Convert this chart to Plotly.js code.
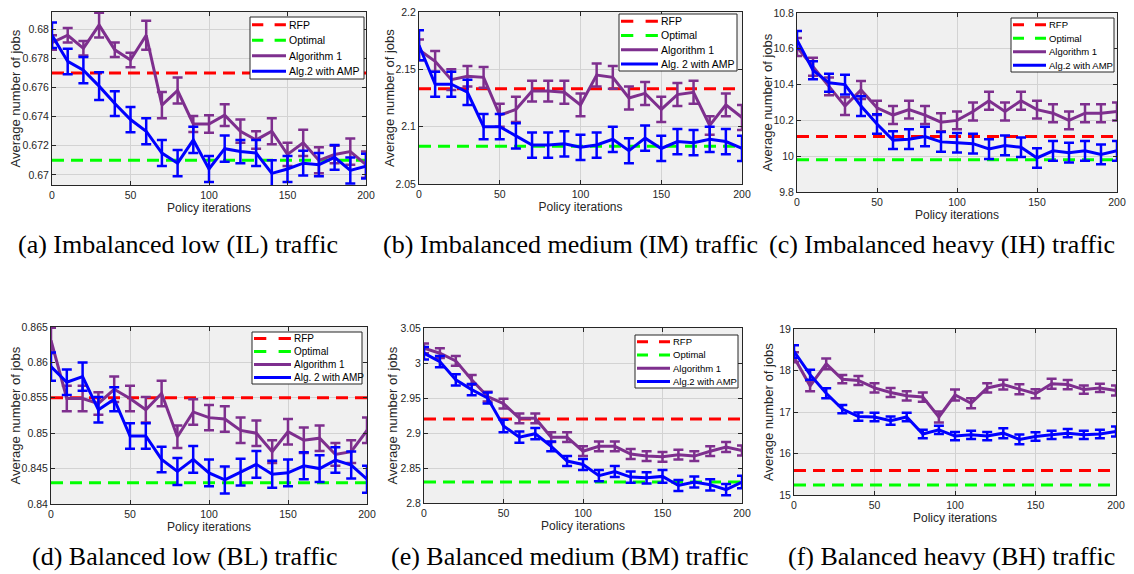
<!DOCTYPE html>
<html>
<head>
<meta charset="utf-8">
<script src="https://cdn.plot.ly/plotly-3.0.1.min.js"></script>
<style>
  html, body { margin: 0; padding: 0; background: #ffffff; }
  #chart { width: 1134px; height: 574px; }
</style>
</head>
<body>
<div id="chart"></div>
<script>
// Policy iteration index shared by every panel
const iterations = [0, 10, 20, 30, 40, 50, 60, 70, 80, 90, 100, 110, 120, 130, 140, 150, 160, 170, 180, 190, 200];
const xTickVals = [0, 50, 100, 150, 200];

// (a) Imbalanced low traffic
const rfpIL = 0.677;
const optIL = 0.671;
const alg1IL = [0.6791, 0.6796, 0.6787, 0.6803, 0.6786, 0.6779, 0.6796, 0.6748, 0.6758, 0.6735, 0.6735, 0.6741, 0.6730, 0.6724, 0.6730, 0.6714, 0.6722, 0.6710, 0.6714, 0.6716, 0.6707];
const alg1ILErr = [0.0005, 0.0005, 0.0005, 0.00085, 0.0005, 0.0005, 0.001, 0.0009, 0.0009, 0.00055, 0.0006, 0.00075, 0.0008, 0.0006, 0.0009, 0.0008, 0.0009, 0.0009, 0.0006, 0.0009, 0.0009];
const alg2IL = [0.6796, 0.6778, 0.6772, 0.6761, 0.6749, 0.6738, 0.6730, 0.6715, 0.6708, 0.6724, 0.6704, 0.6718, 0.6716, 0.6715, 0.6701, 0.6704, 0.6708, 0.6707, 0.6712, 0.6703, 0.6706];
const alg2ILErr = [0.00088, 0.00088, 0.0009, 0.00095, 0.00085, 0.00087, 0.0009, 0.0009, 0.0009, 0.0009, 0.0009, 0.0009, 0.0008, 0.0009, 0.0009, 0.0009, 0.00085, 0.0008, 0.00085, 0.0009, 0.00085];
const yTicksIL = [0.67, 0.672, 0.674, 0.676, 0.678, 0.68];
const yLabelsIL = ['0.67', '0.672', '0.674', '0.676', '0.678', '0.68'];

// (b) Imbalanced medium traffic
const rfpIM = 2.133;
const optIM = 2.083;
const alg1IM = [2.167, 2.157, 2.141, 2.144, 2.143, 2.110, 2.115, 2.131, 2.131, 2.130, 2.119, 2.145, 2.143, 2.125, 2.129, 2.115, 2.128, 2.130, 2.101, 2.119, 2.108];
const alg1IMErr = [0.009, 0.009, 0.009, 0.009, 0.009, 0.010, 0.011, 0.009, 0.009, 0.010, 0.010, 0.010, 0.010, 0.010, 0.010, 0.011, 0.010, 0.010, 0.008, 0.010, 0.011];
const alg2IM = [2.171, 2.137, 2.137, 2.130, 2.100, 2.100, 2.092, 2.084, 2.084, 2.085, 2.082, 2.084, 2.089, 2.079, 2.090, 2.081, 2.087, 2.086, 2.089, 2.087, 2.081];
const alg2IMErr = [0.013, 0.011, 0.011, 0.011, 0.011, 0.011, 0.011, 0.011, 0.011, 0.011, 0.011, 0.011, 0.011, 0.011, 0.011, 0.011, 0.011, 0.011, 0.011, 0.011, 0.011];
const yTicksIM = [2.05, 2.1, 2.15, 2.2];
const yLabelsIM = ['2.05', '2.1', '2.15', '2.2'];

// (c) Imbalanced heavy traffic
const rfpIH = 10.11;
const optIH = 9.98;
const alg1IH = [10.61, 10.50, 10.39, 10.28, 10.37, 10.27, 10.23, 10.26, 10.23, 10.19, 10.20, 10.25, 10.31, 10.25, 10.31, 10.26, 10.24, 10.20, 10.24, 10.24, 10.25];
const alg1IHErr = [0.05, 0.05, 0.05, 0.05, 0.05, 0.04, 0.05, 0.05, 0.05, 0.05, 0.05, 0.05, 0.05, 0.05, 0.05, 0.05, 0.05, 0.05, 0.05, 0.05, 0.05];
const alg2IH = [10.65, 10.48, 10.41, 10.40, 10.28, 10.18, 10.09, 10.095, 10.11, 10.08, 10.075, 10.07, 10.04, 10.06, 10.05, 9.99, 10.03, 10.02, 10.03, 10.01, 10.03];
const alg2IHErr = [0.05, 0.05, 0.05, 0.055, 0.055, 0.055, 0.05, 0.055, 0.055, 0.055, 0.055, 0.055, 0.055, 0.055, 0.055, 0.055, 0.055, 0.055, 0.055, 0.055, 0.055];
const yTicksIH = [9.8, 10, 10.2, 10.4, 10.6, 10.8];
const yLabelsIH = ['9.8', '10', '10.2', '10.4', '10.6', '10.8'];

// (d) Balanced low traffic
const rfpBL = 0.855;
const optBL = 0.843;
const alg1BL = [0.8631, 0.8549, 0.8549, 0.8542, 0.8562, 0.8549, 0.8533, 0.8556, 0.8495, 0.8530, 0.8522, 0.8520, 0.8504, 0.8500, 0.8474, 0.8502, 0.8490, 0.8493, 0.8470, 0.8474, 0.8504];
const alg1BLErr = [0.0018, 0.0018, 0.0018, 0.0016, 0.0018, 0.0018, 0.0018, 0.0018, 0.0016, 0.0018, 0.0018, 0.0018, 0.0018, 0.0018, 0.0016, 0.0018, 0.0018, 0.0018, 0.0016, 0.0016, 0.0018];
const alg2BL = [0.8594, 0.8572, 0.8580, 0.8533, 0.8548, 0.8496, 0.8496, 0.8463, 0.8446, 0.8463, 0.8444, 0.8434, 0.8445, 0.8456, 0.8442, 0.8444, 0.8454, 0.8450, 0.8462, 0.8455, 0.8435];
const alg2BLErr = [0.002, 0.0018, 0.002, 0.0018, 0.0017, 0.0018, 0.0018, 0.0018, 0.0019, 0.0019, 0.0019, 0.0019, 0.0019, 0.0019, 0.0019, 0.0019, 0.0019, 0.0019, 0.0018, 0.0019, 0.0019];
const yTicksBL = [0.84, 0.845, 0.85, 0.855, 0.86, 0.865];
const yLabelsBL = ['0.84', '0.845', '0.85', '0.855', '0.86', '0.865'];

// (e) Balanced medium traffic
const rfpBM = 2.92;
const optBM = 2.83;
const alg1BM = [3.021, 3.014, 3.003, 2.976, 2.952, 2.942, 2.921, 2.921, 2.894, 2.894, 2.874, 2.881, 2.881, 2.870, 2.867, 2.866, 2.869, 2.867, 2.874, 2.880, 2.875];
const alg1BMErr = [0.007, 0.007, 0.007, 0.007, 0.007, 0.007, 0.007, 0.007, 0.007, 0.007, 0.007, 0.007, 0.007, 0.007, 0.007, 0.007, 0.007, 0.007, 0.007, 0.007, 0.007];
const alg2BM = [3.014, 3.002, 2.976, 2.962, 2.950, 2.910, 2.894, 2.899, 2.881, 2.860, 2.855, 2.839, 2.845, 2.837, 2.836, 2.838, 2.825, 2.830, 2.826, 2.819, 2.830];
const alg2BMErr = [0.009, 0.008, 0.008, 0.008, 0.008, 0.009, 0.008, 0.008, 0.007, 0.007, 0.008, 0.008, 0.008, 0.008, 0.008, 0.009, 0.008, 0.008, 0.008, 0.008, 0.009];
const yTicksBM = [2.8, 2.85, 2.9, 2.95, 3, 3.05];
const yLabelsBM = ['2.8', '2.85', '2.9', '2.95', '3', '3.05'];

// (f) Balanced heavy traffic
const rfpBH = 15.59;
const optBH = 15.24;
const alg1BH = [18.32, 17.63, 18.16, 17.79, 17.76, 17.58, 17.47, 17.39, 17.36, 16.88, 17.41, 17.21, 17.58, 17.66, 17.55, 17.44, 17.68, 17.66, 17.54, 17.58, 17.52];
const alg1BHErr = [0.12, 0.13, 0.13, 0.1, 0.11, 0.11, 0.11, 0.11, 0.11, 0.13, 0.13, 0.12, 0.11, 0.12, 0.12, 0.11, 0.12, 0.11, 0.1, 0.1, 0.12];
const alg2BH = [18.46, 17.90, 17.45, 17.07, 16.89, 16.88, 16.79, 16.88, 16.47, 16.57, 16.42, 16.45, 16.42, 16.49, 16.34, 16.41, 16.45, 16.49, 16.45, 16.47, 16.53];
const alg2BHErr = [0.15, 0.12, 0.12, 0.1, 0.1, 0.1, 0.1, 0.1, 0.1, 0.1, 0.1, 0.1, 0.1, 0.12, 0.12, 0.1, 0.1, 0.1, 0.1, 0.1, 0.12];
const yTicksBH = [15, 16, 17, 18, 19];
const yLabelsBH = ['15', '16', '17', '18', '19'];

const captions = [
  '(a) Imbalanced low (IL) traffic',
  '(b) Imbalanced medium (IM) traffic',
  '(c) Imbalanced heavy (IH) traffic',
  '(d) Balanced low (BL) traffic',
  '(e) Balanced medium (BM) traffic',
  '(f) Balanced heavy (BH) traffic'
];
const legendNames = ['RFP', 'Optimal', 'Algorithm 1'];
const xTitle = 'Policy iterations';
const yTitle = 'Average number of jobs';

// Colours (MATLAB defaults)
const C_RFP = '#ff0000';
const C_OPT = '#00ff00';
const C_ALG1 = '#7e2f8e';
const C_ALG2 = '#0000ff';
const C_AXIS = '#262626';
const SANS = "'Liberation Sans', Arial, sans-serif";
const SERIF = "'Liberation Serif', 'Times New Roman', serif";

const W = 1134, H = 574;
const px = v => v / W;
const py = v => 1 - v / H;

// Panel geometry in page pixels: box = [left, right, top, bottom]
const panels = [
  { rfp: rfpIL, opt: optIL, a1: alg1IL, a1e: alg1ILErr, a2: alg2IL, a2e: alg2ILErr, yr: [0.6693, 0.6812], yt: yTicksIL, yl: yLabelsIL,
    box: [52, 366, 12, 185], ytx: 15, legend: { box: [250, 364, 17, 79], font: 10.5, sample: 34, alg2: 'Alg.2 with AMP' }, cap: [178, 245] },
  { rfp: rfpIM, opt: optIM, a1: alg1IM, a1e: alg1IMErr, a2: alg2IM, a2e: alg2IMErr, yr: [2.05, 2.2], yt: yTicksIM, yl: yLabelsIM,
    box: [419, 742, 12, 184], ytx: 389, legend: { box: [619, 737, 14, 71], font: 10.5, sample: 37, alg2: 'Alg. 2 with AMP' }, cap: [570, 245] },
  { rfp: rfpIH, opt: optIH, a1: alg1IH, a1e: alg1IHErr, a2: alg2IH, a2e: alg2IHErr, yr: [9.8, 10.8], yt: yTicksIH, yl: yLabelsIH,
    box: [797, 1117, 13, 192], ytx: 767, legend: { box: [1011, 1114, 18, 72], font: 9.5, sample: 33, alg2: 'Alg.2 with AMP' }, cap: [942, 245] },
  { rfp: rfpBL, opt: optBL, a1: alg1BL, a1e: alg1BLErr, a2: alg2BL, a2e: alg2BLErr, yr: [0.84, 0.865], yt: yTicksBL, yl: yLabelsBL,
    box: [51, 367, 327, 504], ytx: 15, legend: { box: [252, 362, 332, 384], font: 10, sample: 37, alg2: 'Alg. 2 with AMP' }, cap: [185, 556] },
  { rfp: rfpBM, opt: optBM, a1: alg1BM, a1e: alg1BMErr, a2: alg2BM, a2e: alg2BMErr, yr: [2.8, 3.05], yt: yTicksBM, yl: yLabelsBM,
    box: [424, 742, 328, 503], ytx: 392, legend: { box: [635, 738, 335, 388], font: 9.5, sample: 33, alg2: 'Alg.2 with AMP' }, cap: [570, 556] },
  { rfp: rfpBH, opt: optBH, a1: alg1BH, a1e: alg1BHErr, a2: alg2BH, a2e: alg2BHErr, yr: [15, 19], yt: yTicksBH, yl: yLabelsBH,
    box: [794, 1116, 329, 495], ytx: 768, legend: null, cap: [951, 556] }
];

const data = [];
const shapes = [];
const annotations = [];
const layout = {
  width: W, height: H,
  margin: { l: 0, r: 0, t: 0, b: 0 },
  paper_bgcolor: '#ffffff',
  plot_bgcolor: '#f0f0f0',
  showlegend: false,
  font: { family: SANS, color: C_AXIS },
  shapes: shapes,
  annotations: annotations
};

const span = [iterations[0], iterations[iterations.length - 1]];

panels.forEach((p, i) => {
  const n = i === 0 ? '' : String(i + 1);
  const xa = 'x' + n, ya = 'y' + n;
  const [l, r, t, b] = p.box;

  const common = {
    showline: true, linecolor: C_AXIS, linewidth: 1, mirror: 'ticks',
    ticks: 'inside', ticklen: 4, tickwidth: 1, tickcolor: C_AXIS,
    showgrid: true, gridcolor: '#d3d3d3', gridwidth: 1, zeroline: false,
    tickfont: { size: 10.5, color: C_AXIS, family: SANS },
    fixedrange: true
  };
  layout['xaxis' + n] = Object.assign({}, common, {
    domain: [px(l), px(r)], anchor: ya, range: span,
    tickmode: 'array', tickvals: xTickVals,
    title: { text: xTitle, font: { size: 12, color: C_AXIS, family: SANS }, standoff: 2 }
  });
  layout['yaxis' + n] = Object.assign({}, common, {
    domain: [py(b), py(t)], anchor: xa, range: p.yr,
    tickmode: 'array', tickvals: p.yt, ticktext: p.yl
  });

  // Vertical axis title, centred on the panel height
  annotations.push({ xref: 'paper', yref: 'paper', x: px(p.ytx), y: py((t + b) / 2),
    xanchor: 'center', yanchor: 'middle', textangle: -90, showarrow: false, text: yTitle,
    font: { size: 13, color: C_AXIS, family: SANS } });

  data.push({ x: span, y: [p.rfp, p.rfp], xaxis: xa, yaxis: ya, mode: 'lines', name: 'RFP',
    line: { color: C_RFP, width: 3, dash: '12px,7px' }, hoverinfo: 'skip' });
  data.push({ x: span, y: [p.opt, p.opt], xaxis: xa, yaxis: ya, mode: 'lines', name: 'Optimal',
    line: { color: C_OPT, width: 3, dash: '12px,7px' }, hoverinfo: 'skip' });
  data.push({ x: iterations, y: p.a1, xaxis: xa, yaxis: ya, mode: 'lines', name: 'Algorithm 1',
    line: { color: C_ALG1, width: 3 },
    error_y: { type: 'data', array: p.a1e, visible: true, color: C_ALG1, thickness: 2.5, width: 5 } });
  data.push({ x: iterations, y: p.a2, xaxis: xa, yaxis: ya, mode: 'lines', name: 'Alg. 2 with AMP',
    line: { color: C_ALG2, width: 3 },
    error_y: { type: 'data', array: p.a2e, visible: true, color: C_ALG2, thickness: 2.5, width: 5 } });

  // In-axes legend box
  if (p.legend) {
    const [x0, x1, y0, y1] = p.legend.box;
    shapes.push({ type: 'rect', xref: 'paper', yref: 'paper', x0: px(x0), x1: px(x1), y0: py(y1), y1: py(y0),
      fillcolor: '#ffffff', line: { color: C_AXIS, width: 1 }, layer: 'above' });
    const names = legendNames.concat([p.legend.alg2]);
    const seg = (p.legend.sample / 3).toFixed(1) + 'px';
    const styles = [
      { color: C_RFP, dash: seg + ',' + seg },
      { color: C_OPT, dash: seg + ',' + seg },
      { color: C_ALG1, dash: 'solid' },
      { color: C_ALG2, dash: 'solid' }
    ];
    const row = (y1 - y0) / 4;
    names.forEach((name, k) => {
      const yc = y0 + row * (k + 0.5);
      shapes.push({ type: 'line', xref: 'paper', yref: 'paper', x0: px(x0 + 2), x1: px(x0 + 2 + p.legend.sample),
        y0: py(yc), y1: py(yc), line: { color: styles[k].color, width: 3, dash: styles[k].dash }, layer: 'above' });
      annotations.push({ xref: 'paper', yref: 'paper', x: px(x0 + 3 + p.legend.sample), y: py(yc),
        xanchor: 'left', yanchor: 'middle', showarrow: false, text: name,
        font: { size: p.legend.font, color: '#000000', family: SANS } });
    });
  }

  annotations.push({ xref: 'paper', yref: 'paper', x: px(p.cap[0]), y: py(p.cap[1]),
    xanchor: 'center', yanchor: 'middle', showarrow: false, text: captions[i],
    font: { size: 26, color: '#000000', family: SERIF } });
});

Plotly.newPlot('chart', data, layout, { staticPlot: true, displayModeBar: false });
</script>
</body>
</html>
